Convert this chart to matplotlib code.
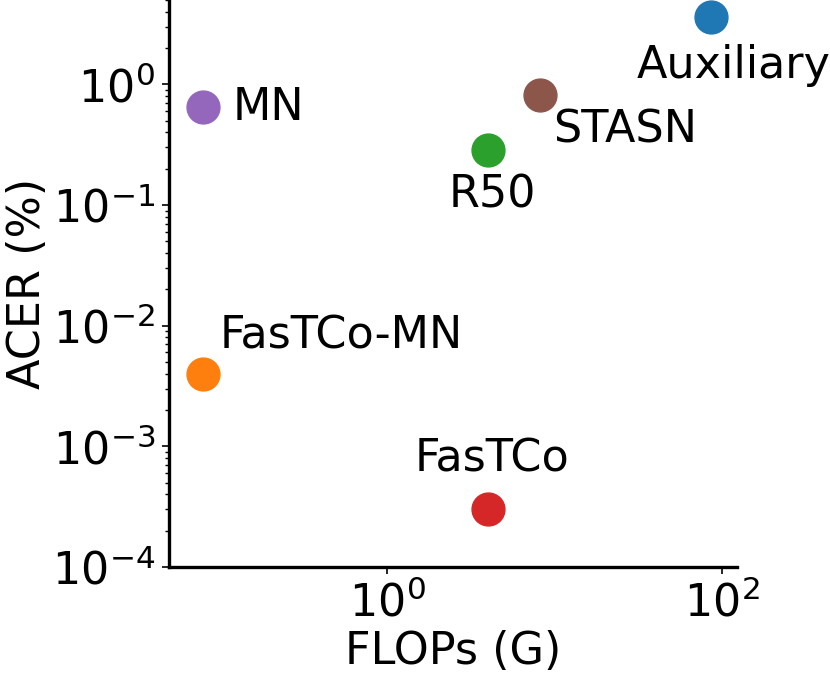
import matplotlib
matplotlib.use("Agg")
import matplotlib.pyplot as plt
from matplotlib.ticker import LogLocator, NullLocator

# data
methods = ["Auxiliary", "FasTCo-MN", "R50", "FasTCo", "MN", "STASN"]
flops = [86, 0.080, 4.0, 4.0, 0.080, 8.2]
acer = [3.6, 0.0040, 0.283, 0.0003, 0.645, 0.81]
colors = ["tab:blue", "tab:orange", "tab:green", "tab:red", "tab:purple", "tab:brown"]

# label offsets in points (dx, dy, ha)
offsets = {
    "Auxiliary": (16, -35, "center"),
    "FasTCo-MN": (12, 27, "left"),
    "R50": (3, -32, "center"),
    "FasTCo": (3, 36, "center"),
    "MN": (21, 0, "left"),
    "STASN": (61, -25, "center"),
}

plt.rcParams["font.size"] = 32

fig = plt.figure(figsize=(8.30, 6.73), dpi=100)
ax = fig.add_axes([0.2036, 0.1575, 0.888 - 0.2036, 1.0 - 0.1575])

for m, x, y, c in zip(methods, flops, acer, colors):
    ax.scatter(x, y, s=560, color=c, zorder=3)
    dx, dy, ha = offsets[m]
    ax.annotate(m, (x, y), xytext=(dx, dy), textcoords="offset points",
                ha=ha, va="center")

ax.set_xscale("log")
ax.set_yscale("log")
ax.set_xlim(0.05, 123)
ax.set_ylim(1e-4, 5.0)

ax.set_xticks([1, 100])
ax.xaxis.set_minor_locator(NullLocator())
ax.yaxis.set_major_locator(LogLocator(base=10, numticks=10))

ax.spines["top"].set_visible(False)
ax.spines["right"].set_visible(False)
ax.spines["left"].set_linewidth(2.4)
ax.spines["bottom"].set_linewidth(2.4)
ax.tick_params(which="major", length=5, width=1.2, pad=5)
ax.tick_params(which="minor", length=3, width=1.0)

ax.set_xlabel("FLOPs (G)", labelpad=3)
ax.set_ylabel("ACER (%)", labelpad=2)

plt.savefig("out.png", dpi=100)
